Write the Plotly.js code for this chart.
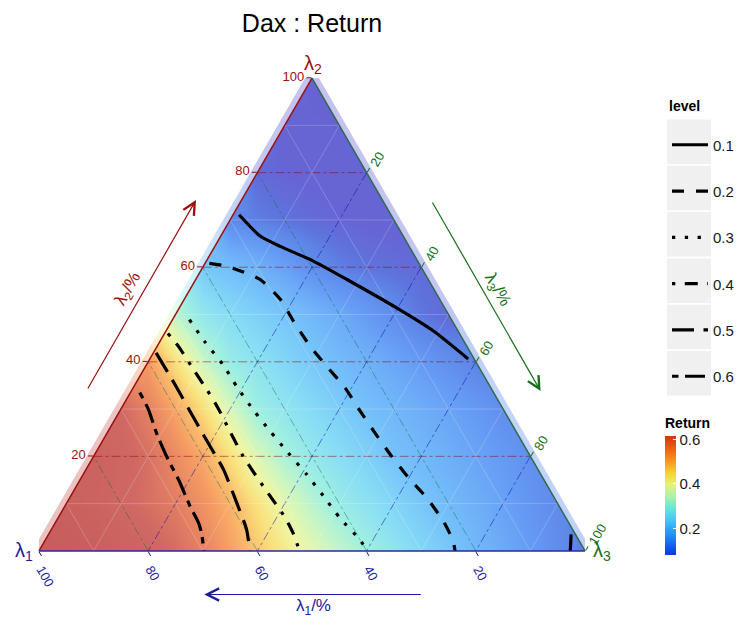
<!DOCTYPE html>
<html><head><meta charset="utf-8">
<script src="https://cdn.plot.ly/plotly-3.0.1.min.js"></script>
<style>html,body{margin:0;padding:0;background:#fff}</style>
</head><body><div id="chart" style="width:742px;height:620px"></div>
<script>
// ---------------- data ----------------
const levels = ['0.1', '0.2', '0.3', '0.4', '0.5', '0.6'];
const axisTicks = [20, 40, 60, 80, 100];
const minorTicks = [10, 30, 50, 70, 90];

// contour lines (λ1 %, λ2 %)
const c01a_l1 = [27.8, 26.2, 23.6, 19.1, 14.9, 8.8, 4.5, 1.1];
const c01a_l2 = [71.1, 66.6, 64.4, 61.3, 57.4, 51.4, 46.5, 40.6];
const c01b_l1 = [2.7, 1.6, 0.8];
const c01b_l2 = [0.0, 2.0, 3.5];
const c02_l1 = [38.4, 35.5, 30.8, 29.2, 29.1, 28.7, 27.8, 26.7, 26.4, 26.0, 25.4, 24.6, 23.4, 22.8, 23.1, 23.8];
const c02_l2 = [60.8, 60.2, 57.4, 53.2, 48.6, 43.3, 39.1, 34.5, 29.6, 25.0, 20.0, 15.5, 11.3, 6.3, 2.1, 0.0];
const c03_l1 = [48.0, 47.5, 46.6, 46.4, 45.8, 45.0, 44.0, 42.9, 42.1, 41.4, 40.1, 39.8];
const c03_l2 = [48.9, 44.1, 39.4, 34.6, 29.6, 25.3, 20.8, 16.2, 11.6, 6.9, 2.6, 0.0];
const c04_l1 = [53.4, 52.8, 52.5, 52.2, 52.1, 52.4, 52.6, 52.1, 51.4, 51.6, 52.3];
const c04_l2 = [46.0, 43.0, 38.0, 34.1, 30.4, 25.0, 20.0, 13.7, 7.0, 3.5, 0.0];
const c05_l1 = [57.6, 57.5, 57.6, 57.6, 57.6, 58.7, 59.7, 61.4];
const c05_l2 = [41.9, 35.2, 27.1, 21.5, 17.2, 10.2, 4.6, 0.0];
const c06_l1 = [64.8, 65.0, 66.0, 66.7, 66.9, 67.6, 67.8, 68.3, 69.8];
const c06_l2 = [33.5, 29.9, 25.0, 19.3, 15.1, 9.5, 6.0, 3.9, 0.0];

// Return field: rows of constant λ2 (%),
// columns = horizontal position across the base (% of base width)
const fieldCols = [0,5,10,15,20,25,30,35,40,45,50,55,60,65,70,75,80,85,90,95,100];
const fieldRowsL2 = [0,10,20,30,40,50,60,70,80,90,100];
const N = null;
const fieldZ = [
  [0.74,0.73,0.72,0.70,0.67,0.64,0.60,0.543,0.485,0.43,0.382,0.342,0.302,0.27,0.239,0.207,0.182,0.158,0.135,0.111,0.09],
  [N,0.71,0.69,0.66,0.635,0.61,0.571,0.515,0.446,0.382,0.331,0.289,0.262,0.235,0.208,0.185,0.165,0.145,0.125,0.108,N],
  [N,N,0.70,0.67,0.635,0.582,0.527,0.448,0.370,0.312,0.278,0.252,0.225,0.199,0.182,0.165,0.148,0.132,0.115,N,N],
  [N,N,N,0.65,0.60,0.533,0.453,0.366,0.296,0.270,0.244,0.219,0.195,0.179,0.163,0.147,0.131,0.113,N,N,N],
  [N,N,N,N,0.55,0.445,0.351,0.289,0.263,0.236,0.21,0.188,0.170,0.151,0.133,0.114,0.098,N,N,N,N],
  [N,N,N,N,N,0.33,0.275,0.247,0.225,0.204,0.181,0.158,0.134,0.111,0.088,0.075,N,N,N,N,N],
  [N,N,N,N,N,N,0.21,0.19,0.171,0.142,0.113,0.095,0.085,0.08,0.075,N,N,N,N,N,N],
  [N,N,N,N,N,N,N,0.105,0.095,0.085,0.078,0.072,0.068,0.065,N,N,N,N,N,N,N],
  [N,N,N,N,N,N,N,N,0.075,0.07,0.066,0.063,0.06,N,N,N,N,N,N,N,N],
  [N,N,N,N,N,N,N,N,N,0.062,0.06,0.058,N,N,N,N,N,N,N,N,N],
  [N,N,N,N,N,N,N,N,N,N,0.055,N,N,N,N,N,N,N,N,N,N]
];
const colorbarMin = 0.083, colorbarMax = 0.618;
const colorbarTicks = [0.2, 0.4, 0.6];

// ---------------- style ----------------
const RED = '#9b1010', GREEN = '#17701a', BLUE = '#1c1c9c';
const stops = [
  [0.083,'#0c3cd8'],[0.10,'#0c48dc'],[0.13,'#1664ee'],[0.16,'#2282f4'],[0.20,'#30a4f8'],
  [0.25,'#4cccf0'],[0.30,'#6ee8d4'],[0.35,'#b0f2a4'],[0.40,'#e8f276'],[0.45,'#f6d23a'],
  [0.50,'#f89a22'],[0.55,'#f06a14'],[0.60,'#d84412'],[0.618,'#d03a10']
];
const fieldStops = [[0.04,'#1a12b8'],[0.07,'#1a16c0'],[0.085,'#0c2ccc']]
  .concat(stops.slice(1, 13)).concat([[0.65,'#b81c14'],[0.75,'#a80808']]);
function scale(st, lo, hi) { return st.map(s => [(s[0]-lo)/(hi-lo), s[1]]); }
const fzmin = 0.04, fzmax = 0.75;
const dashes = ['solid', '12px,12px', '3.3px,9.5px', '3.3px,9.5px,13px,9.5px', '22px,9.5px', '6.5px,6.5px,20px,6.5px'];
const H = Math.sqrt(3) / 2;
// pixel helpers for paper coordinates (plot area 39..585 x 78..551)
const px = v => (v - 39) / 546, py = v => (551.5 - v) / 473;

// ---------------- traces ----------------
const traces = [];
traces.push({
  type: 'heatmap', xaxis: 'x', yaxis: 'y',
  x: fieldCols.map(v => v / 100), y: fieldRowsL2.map(v => v / 100 * H), z: fieldZ,
  zmin: fzmin, zmax: fzmax, colorscale: scale(fieldStops, fzmin, fzmax),
  zsmooth: 'best', connectgaps: true, showscale: false, opacity: 0.66, hoverinfo: 'skip'
});
// masks outside the triangle: a faint halo band, then opaque white beyond it
const d = 6 / 546, ox = d * H, oy = d * 0.5;
traces.push({
  type: 'scatter', mode: 'lines', xaxis: 'x', yaxis: 'y',
  x: [0, 0.5, 0, 0, null, 1, 0.5, 1, 1], y: [0, H, H, 0, null, 0, H, H, 0],
  fill: 'toself', fillcolor: 'rgba(255,255,255,0.62)', line: {width: 0}, showlegend: false, hoverinfo: 'skip'
});
traces.push({
  type: 'scatter', mode: 'lines', xaxis: 'x', yaxis: 'y',
  x: [-ox - 0.05, 0.5 - ox + 0.05, -1, -1, -ox - 0.05, null, 1 + ox + 0.05, 0.5 + ox - 0.05, 2, 2, 1 + ox + 0.05],
  y: [oy - 0.1 * H, H + oy + 0.1 * H, 2, -1, oy - 0.1 * H, null, oy - 0.1 * H, H + oy + 0.1 * H, 2, -1, oy - 0.1 * H],
  fill: 'toself', fillcolor: '#ffffff', line: {width: 0}, showlegend: false, hoverinfo: 'skip'
});
// colorbar carrier
traces.push({
  type: 'scatter', mode: 'markers', xaxis: 'x', yaxis: 'y', x: [0.5], y: [0.3],
  marker: {size: 1, opacity: 0, color: [0.3], cmin: colorbarMin, cmax: colorbarMax,
    colorscale: scale(stops, colorbarMin, colorbarMax), showscale: true,
    colorbar: {
      x: px(665), xanchor: 'left', xpad: 0, ypad: 0, y: py(555), yanchor: 'bottom',
      thickness: 11, len: 140, lenmode: 'pixels', outlinewidth: 0,
      tickvals: colorbarTicks, ticktext: colorbarTicks.map(v => v.toFixed(1)),
      ticks: 'inside', ticklen: 3, tickcolor: '#ffffff', tickwidth: 1,
      tickfont: {size: 15, color: '#1a1a1a'},
      title: {text: 'Return', side: 'top', font: {size: 14, color: '#000', weight: 'bold'}}
    }},
  showlegend: false, hoverinfo: 'skip'
});
// minor grid lines
const ga = [], gb = [];
minorTicks.forEach(v => {
  ga.push(v, v, null); gb.push(100 - v, 0, null);
  ga.push(0, 100 - v, null); gb.push(v, v, null);
  ga.push(0, 100 - v, null); gb.push(100 - v, 0, null);
});
traces.push({type: 'scatterternary', mode: 'lines', a: ga, b: gb,
  line: {color: 'rgba(255,255,255,0.3)', width: 0.7}, showlegend: false, hoverinfo: 'skip'});

const contours = [
  [[c01a_l1, c01a_l2], [c01b_l1, c01b_l2]],
  [[c02_l1, c02_l2]], [[c03_l1, c03_l2]], [[c04_l1, c04_l2]], [[c05_l1, c05_l2]], [[c06_l1, c06_l2]]
];
contours.forEach((segs, i) => {
  segs.forEach((s, j) => {
    traces.push({
      type: 'scatterternary', mode: 'lines', b: s[0], a: s[1],
      name: levels[i], legendgroup: 'g' + i, showlegend: j === 0,
      line: {color: '#000', width: 3.2, dash: dashes[i], shape: 'spline', smoothing: 0.6},
      hoverinfo: 'skip'
    });
  });
});

// ---------------- layout ----------------
function tAxis(color, extra) {
  return Object.assign({
    title: {text: ''},
    tickmode: 'array', tickvals: axisTicks, ticks: 'outside', ticklen: 5, tickcolor: color,
    tickfont: {size: 13, color: color}, linecolor: color, linewidth: 1.5,
    showgrid: true, gridwidth: 0.8, griddash: 'dashdot', min: 0
  }, extra);
}
const shapes = levels.map((l, i) => ({
  type: 'rect', xref: 'paper', yref: 'paper', layer: 'below',
  x0: px(667), x1: px(711),
  y0: py(120 + i * 46.3), y1: py(164.5 + i * 46.3),
  fillcolor: '#f0f0f0', line: {width: 0}
}));
const annotations = [
  {x: px(196), y: py(200.5), ax: -109, ay: 190, arrowcolor: RED},
  {x: px(540.6), y: py(391.5), ax: -109, ay: -190, arrowcolor: GREEN},
  {x: px(204.3), y: py(595), ax: 218, ay: 0, arrowcolor: BLUE}
].map(a => Object.assign({xref: 'paper', yref: 'paper', text: '', showarrow: true,
  arrowhead: 5, arrowsize: 2, arrowwidth: 1.2, standoff: 0, startstandoff: 0}, a));
const txt = (x, y, text, color, size, extra) => Object.assign({xref: 'paper', yref: 'paper',
  x: px(x), y: py(y), text: text, showarrow: false, xanchor: 'center', yanchor: 'middle',
  font: {size: size, color: color}}, extra || {});
annotations.push(
  txt(128, 290, 'λ<sub>2</sub>/%', RED, 17, {textangle: -60}),
  txt(497, 290, 'λ<sub>3</sub>/%', GREEN, 17, {textangle: 60}),
  txt(313.5, 607, 'λ<sub>1</sub>/%', BLUE, 17),
  txt(313, 65, 'λ<sub>2</sub>', RED, 20),
  txt(24, 552, 'λ<sub>1</sub>', BLUE, 20),
  txt(602, 552, 'λ<sub>3</sub>', GREEN, 20),
  txt(667, 106.5, '<b>level</b>', '#000', 14, {xanchor: 'left'})
);

const layout = {
  width: 742, height: 620,
  margin: {l: 39, r: 157, t: 78, b: 69, autoexpand: false},
  paper_bgcolor: '#fff', plot_bgcolor: '#fff',
  font: {family: '"Liberation Sans", Arial, sans-serif', color: '#1a1a1a'},
  title: {text: 'Dax : Return', x: 0.5, xref: 'paper', y: 1 - 23 / 620, yref: 'container',
    yanchor: 'middle', font: {size: 25, color: '#000'}},
  xaxis: {domain: [0, 1], range: [0, 1], visible: false, fixedrange: true},
  yaxis: {domain: [0, 1], range: [0, H], visible: false, fixedrange: true},
  ternary: {
    domain: {x: [0, 1], y: [0, 1]}, sum: 100, bgcolor: 'rgba(0,0,0,0)',
    aaxis: tAxis(RED, {gridcolor: 'rgba(139,0,0,0.55)'}),
    baxis: tAxis(BLUE, {gridcolor: 'rgba(0,110,70,0.55)', tickangle: 60, linecolor: '#2a2aa0'}),
    caxis: tAxis(GREEN, {gridcolor: 'rgba(0,0,170,0.55)', tickangle: -60, linecolor: '#2f6a4f'})
  },
  legend: {
    x: px(667), xanchor: 'left', y: py(129), yanchor: 'top', itemwidth: 36,
    font: {size: 15, color: '#1a1a1a'}, tracegroupgap: 23.8, bgcolor: 'rgba(0,0,0,0)'
  },
  shapes: shapes, annotations: annotations, hovermode: false
};
Plotly.newPlot('chart', traces, layout, {staticPlot: true});
</script></body></html>
